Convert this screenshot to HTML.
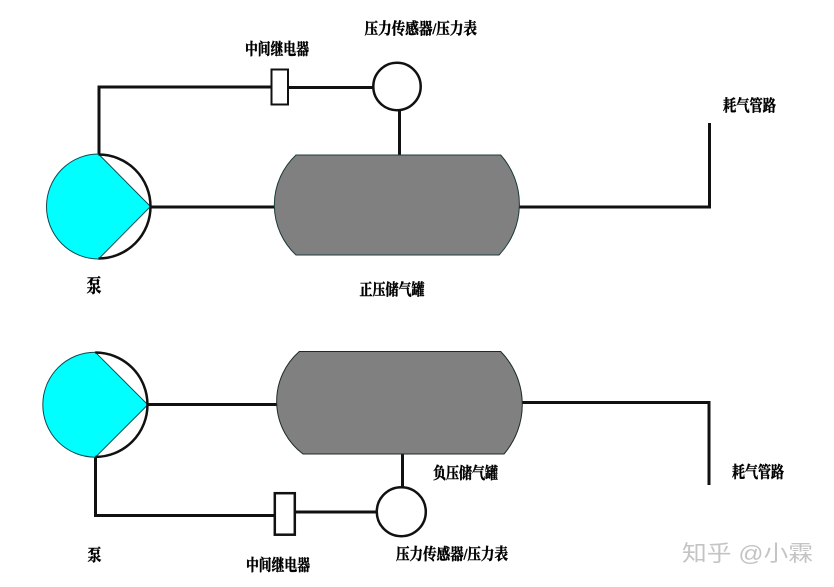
<!DOCTYPE html>
<html lang="zh">
<head>
<meta charset="utf-8">
<title>正压与负压储气罐系统示意图</title>
<style>
html,body{margin:0;padding:0;background:#fff;}
svg{display:block;}
text{font-family:"Liberation Serif","Noto Serif CJK SC",serif;font-weight:700;fill:#000;stroke:#000;stroke-width:.45px;font-size:16px;}
text.wm{font-family:"Liberation Sans","Noto Sans CJK SC",sans-serif;font-weight:400;fill:#c4c4c4;stroke:none;font-size:22px;}
</style>
</head>
<body>
<svg width="834" height="587" viewBox="0 0 834 587" xmlns="http://www.w3.org/2000/svg">
<rect width="834" height="587" fill="#fff"/>

<!-- Upper system -->
<g fill="none" stroke="#111" stroke-width="3">
  <path d="M99 154V87H271"/>
  <path d="M288 87.5H373"/>
  <path d="M399.5 110V155"/>
  <path d="M150 207H275"/>
  <path d="M519 207H709.5V123"/>
</g>
<path d="M98.5 154A52 52.5 0 0 0 98.5 259L150.5 206.5Z" fill="#00ffff" stroke="#0c4a50" stroke-width="1"/>
<path d="M98.5 154.5A52 52 0 0 1 98.5 258.5" fill="none" stroke="#111" stroke-width="2.5"/>
<rect x="271.5" y="69.5" width="16.5" height="35" fill="#fff" stroke="#111" stroke-width="2"/>
<circle cx="397" cy="86.5" r="23.7" fill="#fff" stroke="#111" stroke-width="2.5"/>
<path d="M296 155H500.7A73.8 73.8 0 0 1 499 255H296A68.5 68.5 0 0 1 296 155Z" fill="#808080" stroke="#1c3a3a" stroke-width="1"/>

<!-- Lower system -->
<g fill="none" stroke="#111" stroke-width="3">
  <path d="M95.5 457V515.5H275"/>
  <path d="M295 512H376"/>
  <path d="M402.5 454V487"/>
  <path d="M147 404.5H278"/>
  <path d="M522 402.5H709V485"/>
</g>
<path d="M95.3 352.2A52.5 52.5 0 0 0 95.3 457.2L147.8 404.7Z" fill="#00ffff" stroke="#0c4a50" stroke-width="1"/>
<path d="M95.3 352.5A52 52 0 0 1 95.3 456.9" fill="none" stroke="#111" stroke-width="2.5"/>
<rect x="274.8" y="493.2" width="20" height="41.5" fill="#fff" stroke="#111" stroke-width="2.5"/>
<circle cx="401.3" cy="511.7" r="24.5" fill="#fff" stroke="#111" stroke-width="2.5"/>
<path d="M299.3 351.5H500.7A76 76 0 0 1 504 454H303A66 66 0 0 1 299.3 351.5Z" fill="#808080" stroke="#1c2a2a" stroke-width="1"/>

<!-- Labels -->
<text x="245" y="54.5" textLength="64" lengthAdjust="spacingAndGlyphs">中间继电器</text>
<text x="364.5" y="34" textLength="112.5" lengthAdjust="spacingAndGlyphs">压力传感器/压力表</text>
<text x="86.5" y="292" textLength="15" lengthAdjust="spacingAndGlyphs" style="font-size:19px">泵</text>
<text x="359.5" y="295" textLength="65" lengthAdjust="spacingAndGlyphs">正压储气罐</text>
<text x="723" y="111" textLength="53" lengthAdjust="spacingAndGlyphs">耗气管路</text>
<text x="732" y="477.5" textLength="52" lengthAdjust="spacingAndGlyphs">耗气管路</text>
<text x="433" y="478.5" textLength="65" lengthAdjust="spacingAndGlyphs">负压储气罐</text>
<text x="87.5" y="561" textLength="14" lengthAdjust="spacingAndGlyphs" style="font-size:17px">泵</text>
<text x="246" y="570.5" textLength="64" lengthAdjust="spacingAndGlyphs">中间继电器</text>
<text x="396" y="559.5" textLength="112" lengthAdjust="spacingAndGlyphs">压力传感器/压力表</text>

<!-- Watermark -->
<text class="wm" x="682" y="561" textLength="131" lengthAdjust="spacingAndGlyphs">知乎 @小霖</text>
</svg>
</body>
</html>
